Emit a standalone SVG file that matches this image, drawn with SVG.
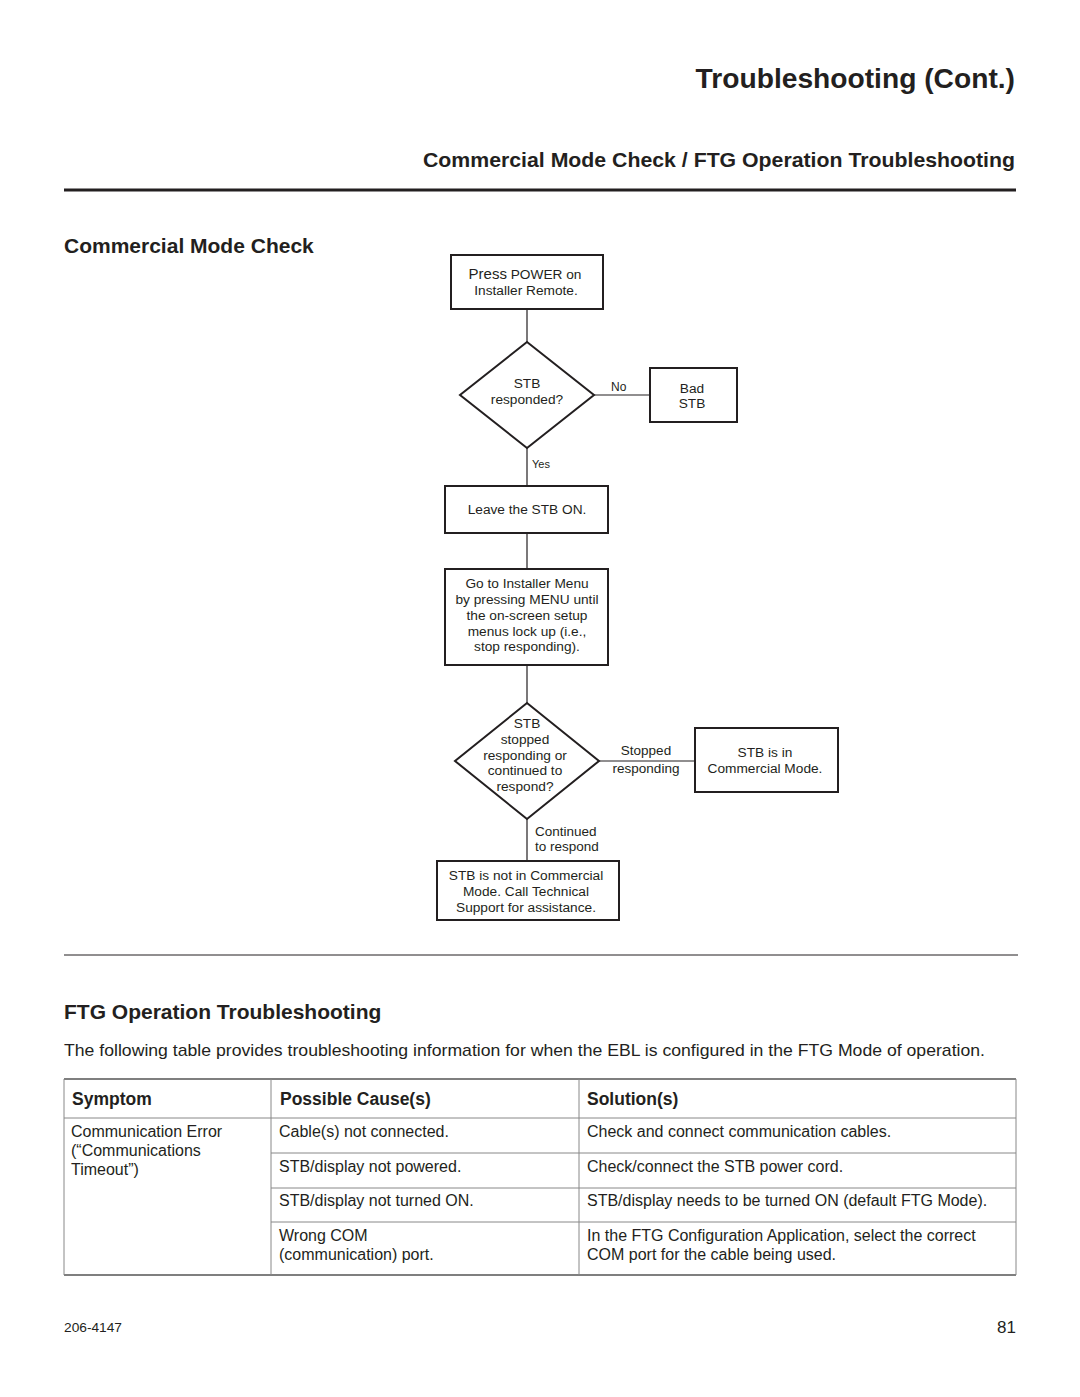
<svg xmlns="http://www.w3.org/2000/svg" width="1080" height="1397" viewBox="0 0 1080 1397">
<style>
text{font-family:"Liberation Sans",Arial,sans-serif;fill:#231f20}
.h{font-weight:bold}
.n{stroke:#231f20;stroke-width:2;fill:#fff}
.c{stroke:#231f20;stroke-width:1.2;fill:none}
.t{font-size:13.7px;text-anchor:middle}
.l{font-size:13.5px}
.tb{font-size:16px}
.th{font-size:17.5px;font-weight:bold}
.g{stroke:#888;stroke-width:1;fill:none}
</style>
<rect width="1080" height="1397" fill="#fff"/>
<text class="h" x="1015" y="88" font-size="28.2" text-anchor="end">Troubleshooting (Cont.)</text>
<text class="h" x="1015" y="167" font-size="21" text-anchor="end" textLength="592" lengthAdjust="spacingAndGlyphs">Commercial Mode Check / FTG Operation Troubleshooting</text>
<line x1="64" y1="190" x2="1016" y2="190" stroke="#231f20" stroke-width="3"/>
<text class="h" x="64" y="253" font-size="21">Commercial Mode Check</text>

<g id="connectors">
<line class="c" x1="527" y1="309" x2="527" y2="342"/>
<line class="c" x1="594" y1="395" x2="650" y2="395"/>
<line class="c" x1="527" y1="448" x2="527" y2="486"/>
<line class="c" x1="527" y1="533" x2="527" y2="569"/>
<line class="c" x1="527" y1="665" x2="527" y2="703"/>
<line class="c" x1="599" y1="761" x2="695" y2="761"/>
<line class="c" x1="527" y1="819" x2="527" y2="861"/>
<text x="611" y="391" font-size="12">No</text>
<text x="532" y="468" font-size="11">Yes</text>
<text class="l" x="646" y="755" text-anchor="middle">Stopped</text>
<text class="l" x="646" y="773" text-anchor="middle">responding</text>
<text class="l" x="535" y="836">Continued</text>
<text class="l" x="535" y="851">to respond</text>
</g>

<g id="press-power">
<rect class="n" x="451" y="255" width="152" height="54"/>
<text class="t" x="525" y="279"><tspan font-size="15">Press</tspan> POWER on</text>
<text class="t" x="526" y="295">Installer Remote.</text>
</g>
<g id="stb-responded">
<polygon class="n" points="527,342 594,395 527,448 460,395"/>
<text class="t" x="527" y="388">STB</text>
<text class="t" x="527" y="404">responded?</text>
</g>
<g id="bad-stb">
<rect class="n" x="650" y="368" width="87" height="54"/>
<text class="t" x="692" y="393">Bad</text>
<text class="t" x="692" y="408">STB</text>
</g>
<g id="leave-on">
<rect class="n" x="445" y="486" width="163" height="47"/>
<text class="t" x="527" y="514">Leave the STB ON.</text>
</g>
<g id="installer-menu">
<rect class="n" x="445" y="569" width="163" height="96"/>
<text class="t" x="527" y="588">Go to Installer Menu</text>
<text class="t" x="527" y="604">by pressing MENU until</text>
<text class="t" x="527" y="620">the on-screen setup</text>
<text class="t" x="527" y="636">menus lock up (i.e.,</text>
<text class="t" x="527" y="651">stop responding).</text>
</g>
<g id="stb-stopped">
<polygon class="n" points="527,703 599,761 527,819 455,761"/>
<text class="t" x="527" y="728">STB</text>
<text class="t" x="525" y="744">stopped</text>
<text class="t" x="525" y="760">responding or</text>
<text class="t" x="525" y="775">continued to</text>
<text class="t" x="525" y="791">respond?</text>
</g>
<g id="commercial-mode">
<rect class="n" x="695" y="728" width="143" height="64"/>
<text class="t" x="765" y="757">STB is in</text>
<text class="t" x="765" y="773">Commercial Mode.</text>
</g>
<g id="not-commercial">
<rect class="n" x="437" y="861" width="182" height="59"/>
<text class="t" x="526" y="880">STB is not in Commercial</text>
<text class="t" x="526" y="896">Mode. Call Technical</text>
<text class="t" x="526" y="912">Support for assistance.</text>
</g>

<line x1="64" y1="955" x2="1018" y2="955" stroke="#231f20" stroke-width="1"/>
<text class="h" x="64" y="1019" font-size="21">FTG Operation Troubleshooting</text>
<text x="64" y="1056" font-size="17" textLength="921" lengthAdjust="spacingAndGlyphs">The following table provides troubleshooting information for when the EBL is configured in the FTG Mode of operation.</text>

<g id="table">
<line x1="64" y1="1079" x2="1016" y2="1079" stroke="#555" stroke-width="1.5"/>
<line x1="64" y1="1275" x2="1016" y2="1275" stroke="#555" stroke-width="1.5"/>
<line class="g" x1="64" y1="1079" x2="64" y2="1275"/>
<line class="g" x1="1016" y1="1079" x2="1016" y2="1275"/>
<line class="g" x1="271" y1="1079" x2="271" y2="1275"/>
<line class="g" x1="579" y1="1079" x2="579" y2="1275"/>
<line class="g" x1="64" y1="1118" x2="1016" y2="1118"/>
<line class="g" x1="271" y1="1153" x2="1016" y2="1153"/>
<line class="g" x1="271" y1="1188" x2="1016" y2="1188"/>
<line class="g" x1="271" y1="1222" x2="1016" y2="1222"/>
<text class="th" x="72" y="1105">Symptom</text>
<text class="th" x="280" y="1105">Possible Cause(s)</text>
<text class="th" x="587" y="1105">Solution(s)</text>
<text class="tb" x="71" y="1137">Communication Error</text>
<text class="tb" x="71" y="1156">(“Communications</text>
<text class="tb" x="71" y="1175">Timeout”)</text>
<text class="tb" x="279" y="1137">Cable(s) not connected.</text>
<text class="tb" x="587" y="1137">Check and connect communication cables.</text>
<text class="tb" x="279" y="1172">STB/display not powered.</text>
<text class="tb" x="587" y="1172">Check/connect the STB power cord.</text>
<text class="tb" x="279" y="1206">STB/display not turned ON.</text>
<text class="tb" x="587" y="1206">STB/display needs to be turned ON (default FTG Mode).</text>
<text class="tb" x="279" y="1241">Wrong COM</text>
<text class="tb" x="279" y="1260">(communication) port.</text>
<text class="tb" x="587" y="1241">In the FTG Configuration Application, select the correct</text>
<text class="tb" x="587" y="1260">COM port for the cable being used.</text>
</g>

<text x="64" y="1332" font-size="12.5" textLength="58" lengthAdjust="spacingAndGlyphs">206-4147</text>
<text x="1016" y="1333" font-size="17" text-anchor="end">81</text>
</svg>
